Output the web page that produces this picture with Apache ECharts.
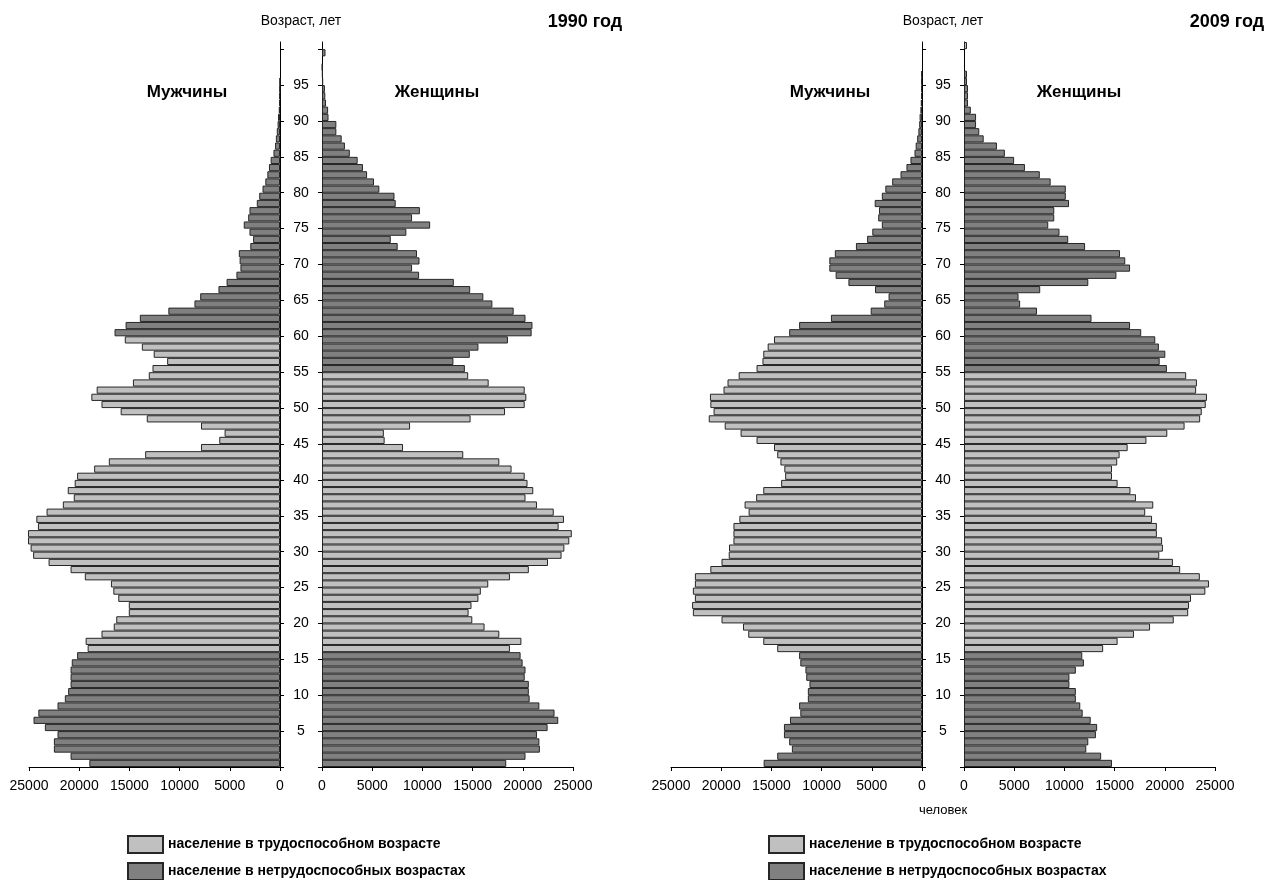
<!DOCTYPE html>
<html><head><meta charset="utf-8">
<script src="https://cdn.jsdelivr.net/npm/echarts@6/dist/echarts.min.js"></script>
<style>html,body{margin:0;padding:0;background:#fff}#c{width:1269px;height:880px}</style>
</head><body><div id="c"></div>
<script>
const ages = [0,1,2,3,4,5,6,7,8,9,10,11,12,13,14,15,16,17,18,19,20,21,22,23,24,25,26,27,28,29,30,31,32,33,34,35,36,37,38,39,40,41,42,43,44,45,46,47,48,49,50,51,52,53,54,55,56,57,58,59,60,61,62,63,64,65,66,67,68,69,70,71,72,73,74,75,76,77,78,79,80,81,82,83,84,85,86,87,88,89,90,91,92,93,94,95,96,97,98,99,100];

const men1990 = [18990,20860,22520,22520,22160,23420,24550,24070,22160,21430,
  21100,20860,20860,20860,20740,20210,19160,19360,17780,16560,
  16310,15060,15060,16110,16600,16840,19440,20860,23050,24590,
  24840,25100,25100,24110,24270,23250,21630,20540,21140,20450,
  20210,18510,17050,13430,7870,6050,5520,7870,13270,15870,
  17780,18790,18260,14650,13070,12700,11240,12580,13760,15460,
  16480,15380,13960,11120,8520,7950,6130,5320,4340,3940,
  4020,4100,2960,2680,3040,3610,3170,3040,2310,2070,
  1740,1460,1260,1100,930,650,490,410,320,240,
  200,120,80,60,40,20,0,0,0,0,0];

const women1990 = [18350,20270,21700,21650,21410,22470,23530,23160,21650,20680,
  20600,20600,20190,20270,19980,19780,18720,19860,17660,16190,
  14970,14600,14890,15580,15820,16560,18720,20600,22510,23860,
  24140,24630,24880,23570,24100,23080,21410,20270,21040,20470,
  20190,18880,17660,14070,8070,6240,6160,8770,14800,18230,
  20190,20350,20190,16600,14560,14230,13090,14720,15580,18520,
  20880,20960,20270,19090,16970,16070,14760,13130,9670,8970,
  9710,9460,7540,6850,8400,10770,8970,9750,7340,7220,
  5710,5180,4490,4080,3550,2770,2280,1960,1430,1430,
  650,610,400,330,290,120,80,40,0,350,0];

const men2009 = [15770,14420,12960,13230,13750,13750,13150,12120,12240,11370,
  11370,11210,11530,11610,12120,12240,14420,15810,17310,17830,
  19970,22820,22900,22620,22820,22620,22620,21080,19970,19250,
  19220,18780,18780,18780,18190,17270,17670,16520,15810,14030,
  13630,13710,14100,14420,14740,16480,18070,19650,21240,20760,
  21080,21120,19770,19370,18260,16480,15890,15810,15370,14740,
  13230,12240,9070,5110,3760,3330,4680,7330,8600,9230,
  9230,8680,6580,5470,4950,4000,4360,4280,4710,4000,
  3650,2970,2140,1550,1150,750,630,480,360,280,
  240,160,120,100,80,80,60,0,0,0,0];

const women2009 = [14740,13660,12180,12380,13140,13260,12620,11820,11580,11140,
  11140,10500,10500,11140,11940,11780,13860,15300,16930,18530,
  20890,22330,22410,22610,24040,24400,23490,21530,20810,19450,
  19810,19730,19210,19210,18730,18050,18850,17130,16580,15300,
  14740,14740,15260,15500,16300,18170,20250,21970,23520,23680,
  24080,24200,23120,23200,22130,20210,19490,20050,19410,19050,
  17650,16540,12700,7270,5590,5430,7590,12380,15180,16540,
  16060,15540,12060,10380,9510,8390,8990,8990,10460,10140,
  10140,8630,7550,6070,4990,4070,3280,1960,1520,1200,
  1200,680,400,400,400,300,300,0,0,0,300];

// working-age ranges (inclusive)
const menWorkAges = [16, 59];
const womenWorkAges = [16, 54];
const women2009ExtraWorkAges = [100];

const ageTicks = [0,5,10,15,20,25,30,35,40,45,50,55,60,65,70,75,80,85,90,95,100];
const ageLabels = [5,10,15,20,25,30,35,40,45,50,55,60,65,70,75,80,85,90,95];
const popTicks = [0,5000,10000,15000,20000,25000];

const WORK = 'население в трудоспособном возрасте';
const NONWORK = 'население в нетрудоспособных возрастах';
const FONT = '"Liberation Sans", Arial, sans-serif';

function split(values, range, extra) {
  const w = [], n = [];
  values.forEach((v, i) => {
    const a = ages[i];
    const isWork = (a >= range[0] && a <= range[1]) || (extra && extra.indexOf(a) >= 0);
    w.push(isWork && v > 0 ? v : null);
    n.push(!isWork && v > 0 ? v : null);
  });
  return [w, n];
}

const panels = [
  {vals: men1990, range: menWorkAges, extra: null, men: true, left: 29},
  {vals: women1990, range: womenWorkAges, extra: null, men: false, left: 322},
  {vals: men2009, range: menWorkAges, extra: null, men: true, left: 671},
  {vals: women2009, range: womenWorkAges, extra: women2009ExtraWorkAges, men: false, left: 964}
];

const grid = [], xAxis = [], yAxis = [], series = [];
panels.forEach((p, g) => {
  grid.push({left: p.left, top: 42, width: 251, height: 725});
  xAxis.push({
    type: 'value', gridIndex: g, min: popTicks[0], max: popTicks[popTicks.length - 1], interval: 5000,
    inverse: p.men, position: 'bottom',
    axisLine: {show: true, onZero: false, lineStyle: {color: '#000', width: 1}},
    axisTick: {show: true, length: 4, lineStyle: {color: '#000'}},
    axisLabel: {fontSize: 14, color: '#000', margin: 12, fontFamily: FONT,
      formatter: function (v) { return String(v); }},
    splitLine: {show: false}
  });
  yAxis.push({type: 'category', gridIndex: g, data: ages, show: false});
  yAxis.push({
    type: 'value', gridIndex: g, min: 0, max: 101,
    position: p.men ? 'right' : 'left',
    axisLine: {show: true, onZero: false, lineStyle: {color: '#000', width: 1}},
    axisTick: {show: true, length: 4, customValues: ageTicks, lineStyle: {color: '#000'}},
    axisLabel: {show: !p.men, customValues: ageLabels, align: 'center', margin: 21,
      fontSize: 14, color: '#000', fontFamily: FONT},
    splitLine: {show: false}
  });
  const [w, n] = split(p.vals, p.range, p.extra);
  const common = {type: 'bar', xAxisIndex: g, yAxisIndex: g * 2, barWidth: '100%', barGap: '-100%',
    silent: true, clip: false};
  series.push(Object.assign({}, common, {name: WORK, data: w,
    itemStyle: {color: '#c0c0c0', borderColor: '#262626', borderWidth: 1}}));
  series.push(Object.assign({}, common, {name: NONWORK, data: n,
    itemStyle: {color: '#808080', borderColor: '#262626', borderWidth: 1}}));
});

function txt(x, y, s, size, bold) {
  return {type: 'text', x: x, y: y, silent: true,
    style: {text: s, fill: '#000', font: (bold ? 'bold ' : '') + size + 'px ' + FONT,
      textAlign: 'center', textVerticalAlign: 'middle'}};
}

function legendItem(left, top, name) {
  return {orient: 'horizontal', left: left, top: top, padding: 0, itemWidth: 35, itemHeight: 17,
    selectedMode: false, icon: 'rect', data: [name],
    textStyle: {fontSize: 14, fontWeight: 'bold', color: '#000', fontFamily: FONT}};
}

const chart = echarts.init(document.getElementById('c'));
chart.setOption({
  backgroundColor: '#fff',
  animation: false,
  grid: grid, xAxis: xAxis, yAxis: yAxis, series: series,
  legend: [
    legendItem(127, 835, WORK), legendItem(127, 862, NONWORK),
    legendItem(768, 835, WORK), legendItem(768, 862, NONWORK)
  ],
  graphic: [
    txt(301, 21, 'Возраст, лет', 14, false),
    txt(585, 22, '1990 год', 18, true),
    txt(187, 92, 'Мужчины', 17, true),
    txt(437, 92, 'Женщины', 17, true),
    txt(943, 21, 'Возраст, лет', 14, false),
    txt(1227, 22, '2009 год', 18, true),
    txt(830, 92, 'Мужчины', 17, true),
    txt(1079, 92, 'Женщины', 17, true),
    txt(943, 810, 'человек', 13, false)
  ]
});
</script></body></html>
